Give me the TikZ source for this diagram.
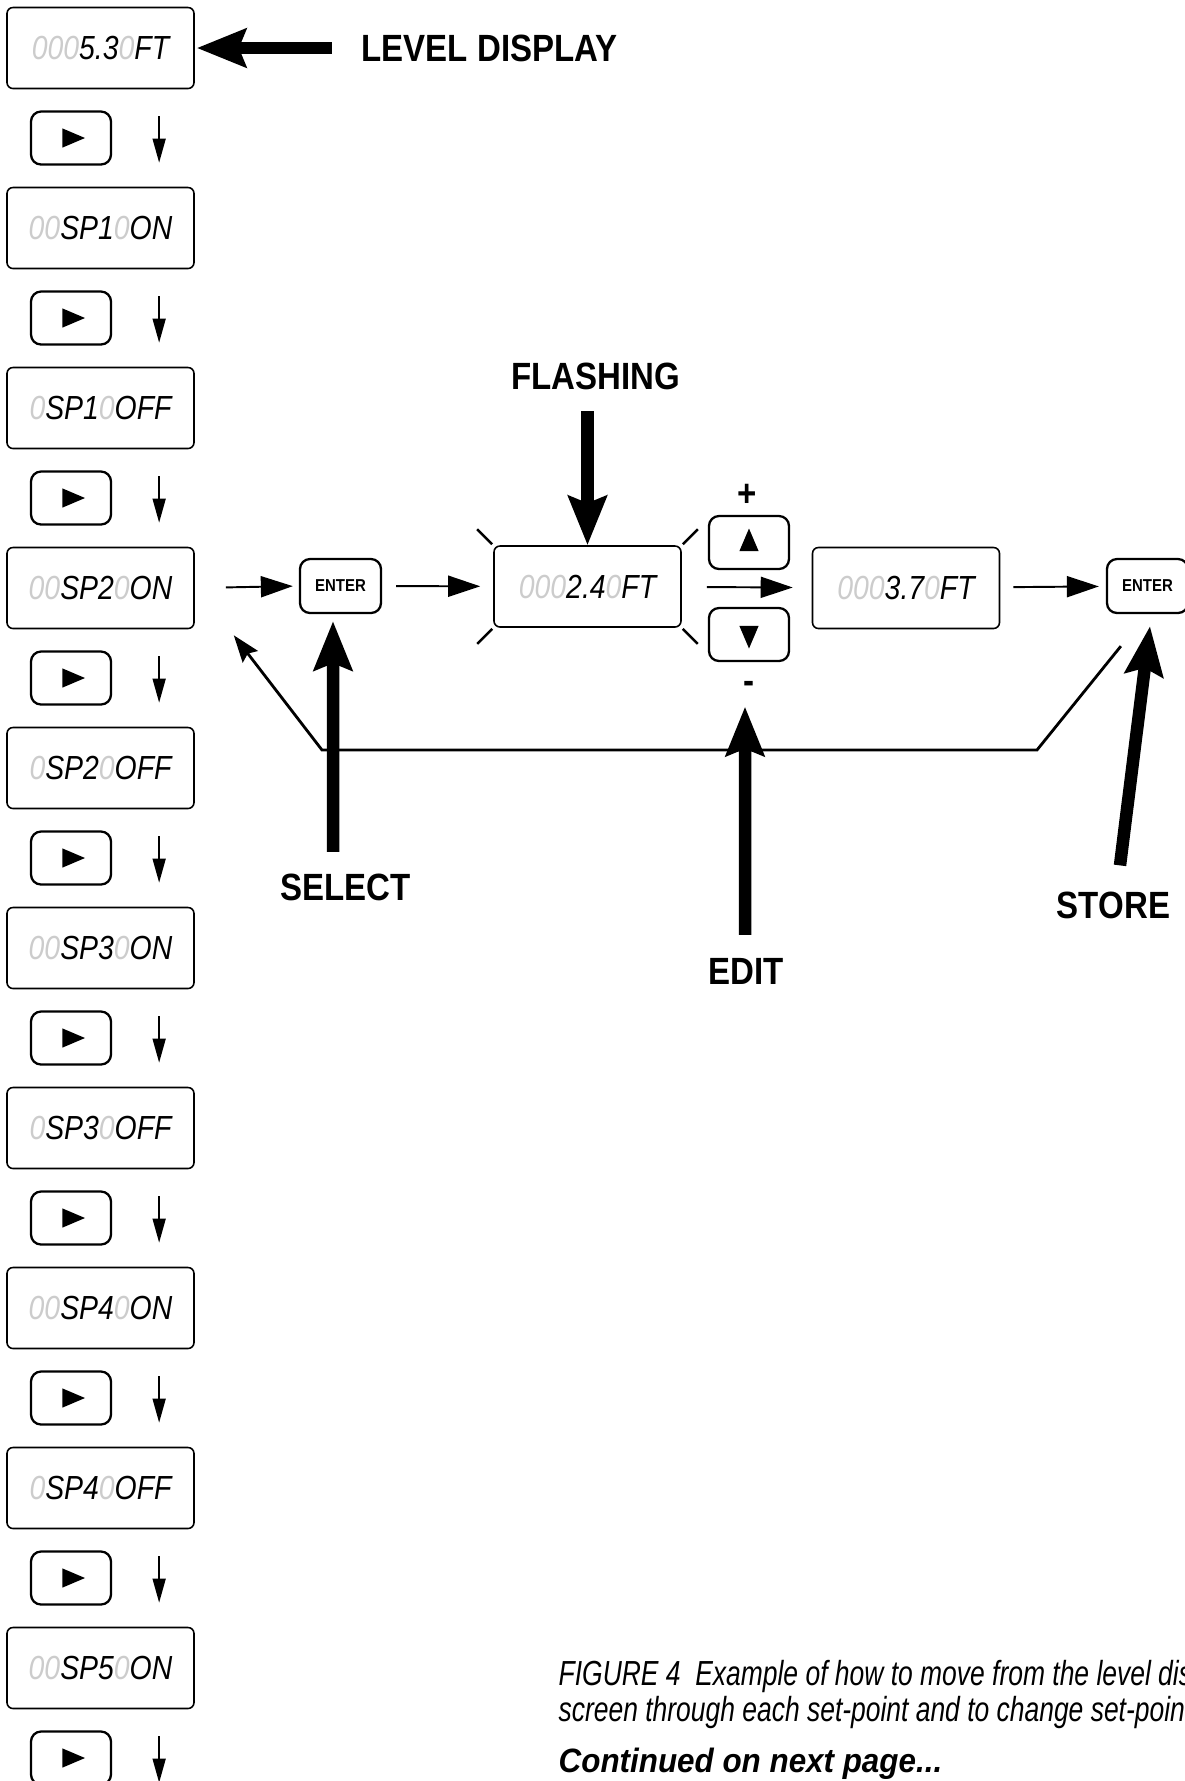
\documentclass[tikz,border=0pt]{standalone}
\usepackage{fontspec}
\usetikzlibrary{arrows.meta,positioning,calc}
\newfontfamily\lcdfont[FakeStretch=0.85]{Liberation Sans}
\newfontfamily\labelfont[FakeStretch=0.87]{Liberation Sans}
\newfontfamily\capfont[FakeStretch=0.76]{Liberation Sans}
\newfontfamily\contfont[FakeStretch=0.93]{Liberation Sans}
\definecolor{lcdoff}{gray}{0.8}
\newcommand{\unlit}[1]{{\color{lcdoff}#1}}

\begin{document}
\begin{tikzpicture}[x=0.1mm,y=-0.1mm,
    lcd/.style={draw,line width=0.45pt,rounded corners=0.6mm,minimum width=18.7mm,minimum height=8.1mm,inner sep=0pt,font=\lcdfont\itshape\fontsize{9.5}{10}\selectfont},
    btn/.style={draw,line width=0.65pt,rounded corners=1mm,minimum width=8mm,minimum height=5.3mm,inner sep=0pt,
      path picture={\fill[sharp corners] ($(path picture bounding box.center)+(#1:1.4mm)$)
        -- ($(path picture bounding box.center)+(#1+132:1.3mm)$) -- ($(path picture bounding box.center)+(#1-132:1.3mm)$) -- cycle;}},
    entbtn/.style={draw,line width=0.65pt,rounded corners=1mm,minimum width=8.1mm,minimum height=5.4mm,inner sep=0pt,font=\labelfont\bfseries\fontsize{4.9}{5}\selectfont},
    callout/.style={font=\labelfont\bfseries\fontsize{10.8}{12}\selectfont,inner sep=0pt},
    thinarrow/.style={line width=0.55pt,-{Triangle[length=3.2mm,width=2.1mm]}},
    stepdown/.style={line width=0.45pt,-{Triangle[length=2.4mm,width=1.3mm]}},
    bigarrow/.style={line width=1.25mm,-{Stealth[length=4.9mm,width=3.8mm,inset=0.7mm]}},
    flashtick/.style={line width=0.7pt}
  ]
  \useasboundingbox (0,0) rectangle (1185,1781);
  \foreach \txt [count=\i from 0] in {{\unlit{000}5.3\unlit{0}FT},{\unlit{00}SP1\unlit{0}ON},{\unlit{0}SP1\unlit{0}OFF},
      {\unlit{00}SP2\unlit{0}ON},{\unlit{0}SP2\unlit{0}OFF},{\unlit{00}SP3\unlit{0}ON},{\unlit{0}SP3\unlit{0}OFF},
      {\unlit{00}SP4\unlit{0}ON},{\unlit{0}SP4\unlit{0}OFF},{\unlit{00}SP5\unlit{0}ON}} {
    \node[lcd] (lcd\i) at (100.5,48+180*\i) {\txt};
    \node[btn=0] (nxt\i) at (71,138+180*\i) {};
    \draw[stepdown] ([xshift=4.7mm,yshift=-0.6mm]nxt\i.north east) -- ([xshift=4.7mm,yshift=0.3mm]nxt\i.south east);
  }
  \node[entbtn] (enter1) at (340.5,586) {ENTER};
  \node[lcd] (flash) at (587.5,586.5) {\unlit{000}2.4\unlit{0}FT};
  \node[btn=90] (up) at (749,542.5) {};
  \node[btn=-90] (down) at (749,634.5) {};
  \node[lcd] (newval) at (906,588) {\unlit{000}3.7\unlit{0}FT};
  \node[entbtn] (enter2) at (1147.5,586) {ENTER};
  \foreach \a/\sx/\sy in {north west/-1/1,north east/1/1,south west/-1/-1,south east/1/-1}
    \draw[flashtick] ([shift={(\sx*0.1mm,\sy*0.1mm)}]flash.\a) -- ++(\sx*1.5mm,\sy*1.5mm);
  \node[callout] (level) at (489.5,48) {LEVEL DISPLAY};
  \node[callout] (flashing) at (596,376) {FLASHING};
  \node[callout] (select) at (345.5,887) {SELECT};
  \node[callout] (edit) at (746.5,971) {EDIT};
  \node[callout] (store) at (1113.5,905) {STORE};
  \node[callout,anchor=base] (plus) at (747,506) {+};
  \node[callout,anchor=base] (minus) at (749,693) {-};
  \draw[bigarrow,shorten <=2.9mm,shorten >=0.2mm] (level.west) -- (lcd0.east);
  \draw[bigarrow] ([yshift=-2.1mm]flashing.south -| flash) -- (flash.north);
  \draw[bigarrow] ([xshift=-1.25mm,yshift=2.1mm]select.north) -- ([xshift=-0.75mm,yshift=-0.7mm]enter1.south);
  \draw[bigarrow] ([xshift=-0.15mm,yshift=2.25mm]edit.north) -- ([xshift=-0.4mm,yshift=-4.45mm]down.south);
  \draw[bigarrow] ([xshift=0.65mm,yshift=2.55mm]store.north) -- ([xshift=0.25mm,yshift=-1.2mm]enter2.south);
  \draw[thinarrow,shorten <=3.1mm,shorten >=0.6mm] (lcd3.east) -- (enter1.west);
  \draw[thinarrow,shorten <=1.4mm,shorten >=1.3mm] (enter1) -- (flash);
  \draw[thinarrow,shorten <=2.5mm,shorten >=1.9mm] (flash) -- (newval);
  \draw[thinarrow,shorten <=1.3mm,shorten >=0.7mm] (newval) -- (enter2);
  \coordinate (bendr) at (1037,750);
  \coordinate (bendl) at (322,750);
  \draw[line width=0.8pt,-{Stealth[length=2.7mm,width=1.9mm,inset=0.4mm]}] ([xshift=1.5mm,yshift=-3.2mm]enter2.south west) -- (bendr) -- (bendl) -- ([xshift=3.9mm,yshift=-0.6mm]lcd3.south east);
  \node[anchor=base west,inner sep=0pt,font=\capfont\itshape\fontsize{9.9}{12}\selectfont] (cap1) at (558,1685) {FIGURE 4\ \ Example of how to move from the level dis};
  \node[anchor=base west,inner sep=0pt,font=\capfont\itshape\fontsize{9.9}{12}\selectfont] (cap2) at (558,1721) {screen through each set-point and to change set-poin};
  \node[anchor=base west,inner sep=0pt,font=\contfont\bfseries\itshape\fontsize{9.6}{12}\selectfont] (cont) at (558,1772) {Continued on next page...};
\end{tikzpicture}
\end{document}
